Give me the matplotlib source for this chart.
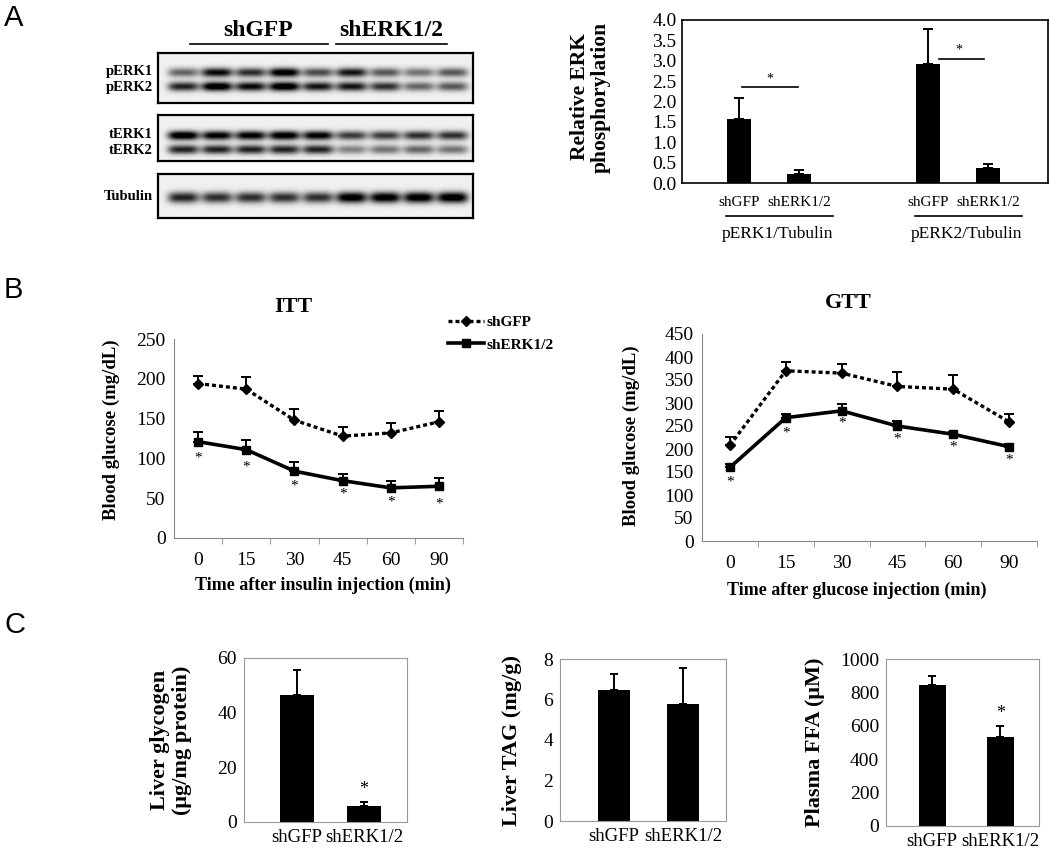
import matplotlib
matplotlib.use("Agg")
import matplotlib.pyplot as plt
from matplotlib.lines import Line2D
import numpy as np

plt.rcParams['font.family'] = ['Liberation Serif', 'DejaVu Serif']

# ---- data ----
# western blot band intensities (0..1), 9 lanes: 5 shGFP + 4 shERK1/2
perk1 = [0.50, 0.85, 0.70, 0.95, 0.60, 0.80, 0.55, 0.45, 0.55]
perk2 = [0.75, 1.00, 0.85, 1.00, 0.80, 0.80, 0.70, 0.50, 0.55]
terk1 = [1.00, 0.90, 0.90, 0.95, 0.90, 0.65, 0.65, 0.70, 0.70]
terk2 = [0.75, 0.75, 0.75, 0.75, 0.75, 0.40, 0.45, 0.50, 0.45]
tubulin = [0.75, 0.70, 0.70, 0.70, 0.70, 0.95, 0.95, 0.95, 0.98]

# relative ERK phosphorylation
groups = ['pERK1/Tubulin', 'pERK2/Tubulin']
conds = ['shGFP', 'shERK1/2']
phos_mean = [[1.57, 0.22], [2.93, 0.36]]
phos_err = [[0.52, 0.10], [0.85, 0.11]]
sig_y = [2.35, 3.05]

# ITT / GTT
times = ['0', '15', '30', '45', '60', '90']
itt_gfp = [194, 187, 148, 128, 132, 146]
itt_gfp_err = [9, 15, 14, 12, 13, 13]
itt_erk = [121, 111, 84, 72, 63, 65]
itt_erk_err = [12, 12, 12, 8, 8, 11]
itt_star = [100, 89, 65, 55, 45, 43]

gtt_gfp = [208, 370, 365, 336, 330, 259]
gtt_gfp_err = [19, 20, 19, 32, 31, 17]
gtt_erk = [160, 268, 283, 250, 232, 205]
gtt_erk_err = [7, 8, 15, 10, 4, 6]
gtt_star = [129, 234, 256, 221, 204, 175]

# panel C
glyc = [46.3, 6.0]
glyc_err = [9.3, 1.3]
tag = [6.47, 5.77]
tag_err = [0.77, 1.77]
ffa = [846, 535]
ffa_err = [52, 64]

W, H = 1050, 851
fig = plt.figure(figsize=(10.5, 8.51), dpi=100)


def rect(x0, y0, x1, y1):
    return [x0 / W, 1 - y1 / H, (x1 - x0) / W, (y1 - y0) / H]


def ftxt(x, y, s, **kw):
    fig.text(x / W, 1 - y / H, s, **kw)


# ---- panel letters ----
for lab, y in [('A', 18), ('B', 290), ('C', 625)]:
    ftxt(4, y, lab, fontsize=21, family='Liberation Sans', va='center', ha='left')

# ---- blot ----
lane_x = np.linspace(25, 294, 9)


def blot_img(w, h, rows, bands, sy):
    xs = np.arange(w)
    ys = np.arange(h)
    img = np.full((h, w), 0.06)
    for ry, vals in zip(rows, bands):
        for cx, v in zip(lane_x, vals):
            px_ = np.exp(-np.abs((xs - cx) / 15.5) ** 4)
            py_ = np.exp(-((ys - ry) / sy) ** 2)
            img += 1.1 * v * np.outer(py_, px_)
    return np.clip(img, 0, 1)


boxes = [((158, 53, 473, 103), [19, 33], [perk1, perk2], 4.6,
          [('pERK1', 72), ('pERK2', 87)]),
         ((158, 115, 473, 161), [20, 34], [terk1, terk2], 4.6,
          [('tERK1', 135), ('tERK2', 150)]),
         ((158, 174, 473, 218), [23], [tubulin], 5.5,
          [('Tubulin', 196)])]
for (x0, y0, x1, y1), rows, bands, sy, labs in boxes:
    ax = fig.add_axes(rect(x0, y0, x1, y1))
    ax.imshow(blot_img(x1 - x0, y1 - y0, rows, bands, sy), cmap='gray_r',
              vmin=0, vmax=1, aspect='auto', interpolation='bilinear')
    ax.set_xticks([])
    ax.set_yticks([])
    for s in ax.spines.values():
        s.set_linewidth(1.6)
    for t, yy in labs:
        ftxt(153, yy, t, fontsize=10.5, weight='bold', ha='right', va='center')

ftxt(258, 30, 'shGFP', fontsize=17, weight='bold', ha='center', va='center')
ftxt(391, 30, 'shERK1/2', fontsize=17, weight='bold', ha='center', va='center')
fig.add_artist(Line2D([190 / W, 328 / W], [1 - 44 / H] * 2, color='black', lw=1.2))
fig.add_artist(Line2D([336 / W, 447 / W], [1 - 44 / H] * 2, color='black', lw=1.2))

# ---- panel A bar chart ----
ax = fig.add_axes(rect(682, 20, 1048, 183))
gx = [0, 3.15]
for gi, g in enumerate(groups):
    xs = [gx[gi], gx[gi] + 1]
    ax.bar(xs, phos_mean[gi], width=0.4, color='black',
           yerr=[[0, 0], phos_err[gi]], capsize=3.5,
           error_kw=dict(lw=1.4, capthick=1.4))
    ax.plot([gx[gi] + 0.05, gx[gi] + 0.98] if gi == 0 else [gx[gi] + 0.18, gx[gi] + 0.93],
            [sig_y[gi]] * 2, color='black', lw=1.2)
    ax.text(gx[gi] + 0.52, sig_y[gi] + 0.05, '*', ha='center', va='bottom', fontsize=10)
    tr = ax.get_xaxis_transform()
    for xx, c in zip(xs, conds):
        ax.text(xx, -0.117, c, transform=tr, ha='center', va='center', fontsize=11)
    ax.plot([gx[gi] - 0.22, gx[gi] + 1.57], [-0.2, -0.2], transform=tr,
            color='black', lw=1.2, clip_on=False)
    ax.text(gx[gi] + 0.65, -0.31, g, transform=tr, ha='center', va='center', fontsize=12.5)
ax.set_xlim(-0.95, 5.15)
ax.set_ylim(0, 4)
ax.set_yticks(np.arange(0, 4.01, 0.5))
ax.set_yticklabels(['%.1f' % v for v in np.arange(0, 4.01, 0.5)], fontsize=14)
ax.tick_params(axis='y', length=0, pad=4)
ax.set_xticks([])
for s in ax.spines.values():
    s.set_linewidth(1.2)
ftxt(590, 97, 'Relative ERK\nphosphorylation', fontsize=15.5, weight='bold',
     rotation=90, ha='center', va='center', linespacing=1.05)

gfp_style = dict(color='black', linestyle=(0, (1.2, 0.9)), lw=2.4, marker='D', ms=5.5)
erk_style = dict(color='black', linestyle='-', lw=2.6, marker='s', ms=5.5)


# ---- panel B ----
def line_panel(box, gfp, gfp_err, erk, erk_err, stars, ymax, ystep, title, tx, ty, xlabel, xl, yl):
    ax = fig.add_axes(rect(*box))
    x = np.arange(len(times))
    ax.errorbar(x, gfp, yerr=[np.zeros(len(gfp)), gfp_err], capsize=3.5,
                elinewidth=1.4, capthick=1.4, **gfp_style)
    ax.errorbar(x, erk, yerr=[np.zeros(len(erk)), erk_err], capsize=3.5,
                elinewidth=1.4, capthick=1.4, **erk_style)
    for xi, sy in zip(x, stars):
        ax.text(xi, sy, '*', ha='center', va='center', fontsize=11)
    ax.set_xlim(-0.5, len(times) - 0.5)
    ax.set_ylim(0, ymax)
    ax.set_yticks(np.arange(0, ymax + 1, ystep))
    ax.tick_params(axis='y', length=0, labelsize=14, pad=6)
    ax.set_xticks(x)
    ax.set_xticklabels(times, fontsize=14)
    ax.tick_params(axis='x', length=0, pad=10)
    ax.set_xticks(np.arange(0.5, len(times)), minor=True)
    ax.tick_params(axis='x', which='minor', length=4, color='#888888')
    for s in ['top', 'right']:
        ax.spines[s].set_visible(False)
    for s in ['left', 'bottom']:
        ax.spines[s].set_color('#888888')
    ftxt(tx, ty, title, fontsize=16, weight='bold', ha='center', va='center')
    ftxt(xl[0], xl[1], xlabel, fontsize=13, weight='bold', ha='center', va='center')
    ftxt(yl[0], yl[1], 'Blood glucose (mg/dL)', fontsize=13.5, weight='bold',
         ha='center', va='center', rotation=90)
    return ax


line_panel((174, 339, 463, 538), itt_gfp, itt_gfp_err, itt_erk, itt_erk_err,
           itt_star, 250, 50, 'ITT', 293, 307,
           'Time after insulin injection (min)', (323, 585), (111, 430))
line_panel((702, 334, 1037, 541), gtt_gfp, gtt_gfp_err, gtt_erk, gtt_erk_err,
           gtt_star, 450, 50, 'GTT', 848, 303,
           'Time after glucose injection (min)', (857, 590), (631, 436))

fig.legend([Line2D([], [], **gfp_style), Line2D([], [], **erk_style)],
           ['shGFP', 'shERK1/2'], loc='upper left',
           bbox_to_anchor=(434 / W, 1 - 302 / H),
           frameon=False, handlelength=2.4, handletextpad=0.15, labelspacing=0.55,
           prop=dict(family='Liberation Serif', weight='bold', size=11))


# ---- panel C ----
def bar_panel(box, vals, errs, ymax, ystep, xlim, star, ylabel, ylx, bw):
    ax = fig.add_axes(rect(*box))
    ax.bar([0, 1], vals, width=bw, color='black',
           yerr=[[0, 0], errs], capsize=3, error_kw=dict(lw=1.4, capthick=1.4))
    if star is not None:
        ax.text(1, star, '*', ha='center', va='center', fontsize=13)
    ax.set_xlim(*xlim)
    ax.set_ylim(0, ymax)
    ax.set_yticks(np.arange(0, ymax + 1, ystep))
    ax.tick_params(axis='y', length=0, labelsize=14, pad=5)
    ax.set_xticks([0, 1])
    ax.set_xticklabels(conds, fontsize=13.5)
    ax.tick_params(axis='x', length=0, pad=5)
    for s in ax.spines.values():
        s.set_color('#999999')
    ftxt(ylx, (box[1] + box[3]) / 2, ylabel, fontsize=16, weight='bold',
         ha='center', va='center', rotation=90, linespacing=1.12)


bar_panel((244, 658, 407, 822), glyc, glyc_err, 60, 20, (-0.79, 1.64), 12,
          'Liver glycogen\n(μg/mg protein)', 171, 0.5)
bar_panel((560, 659, 726, 821), tag, tag_err, 8, 2, (-0.78, 1.62), None,
          'Liver TAG (mg/g)', 512, 0.47)
bar_panel((886, 659, 1039, 826), ffa, ffa_err, 1000, 200, (-0.68, 1.57), 675,
          'Plasma FFA (μM)', 815, 0.4)

fig.savefig('out.png', dpi=100, facecolor='white')
